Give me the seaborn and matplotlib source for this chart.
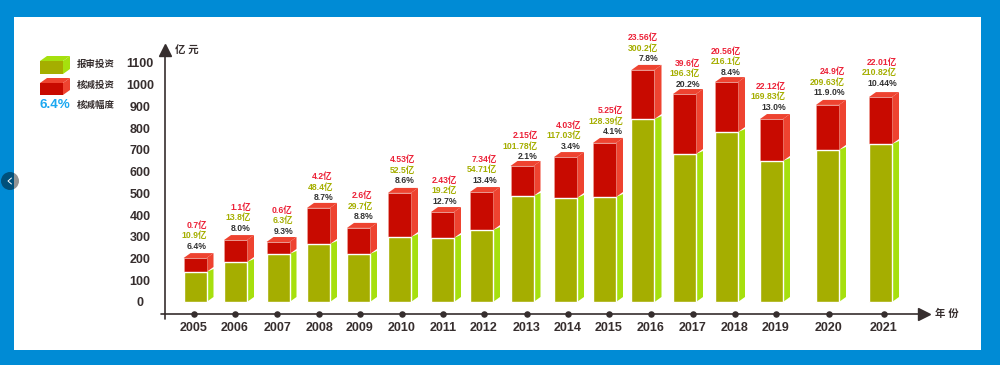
import numpy as np
import pandas as pd
import matplotlib
matplotlib.use("Agg")
import matplotlib.pyplot as plt
import seaborn as sns
from matplotlib.patches import Polygon, Rectangle, Circle

years = [2005, 2006, 2007, 2008, 2009, 2010, 2011, 2012, 2013, 2014, 2015, 2016, 2017, 2018, 2019, 2020, 2021]
# bar heights (they do not follow the printed labels)
reported = [138, 184, 221, 267, 221, 299, 295, 331, 488, 479, 483, 842, 681, 782, 649, 700, 727]
cut = [64, 101, 55, 166, 120, 203, 119, 175, 138, 188, 249, 226, 276, 230, 193, 207, 216]
cut_labels = ["0.7亿", "1.1亿", "0.6亿", "4.2亿", "2.6亿", "4.53亿", "2.43亿", "7.34亿", "2.15亿", "4.03亿", "5.25亿",
              "23.56亿", "39.6亿", "20.56亿", "22.12亿", "24.9亿", "22.01亿"]
reported_labels = ["10.9亿", "13.8亿", "6.3亿", "48.4亿", "29.7亿", "52.5亿", "19.2亿", "54.71亿", "101.78亿", "117.03亿",
                   "128.39亿", "300.2亿", "196.3亿", "216.1亿", "169.83亿", "209.63亿", "210.82亿"]
pct_labels = ["6.4%", "8.0%", "9.3%", "8.7%", "8.8%", "8.6%", "12.7%", "13.4%", "2.1%", "3.4%", "4.1%",
              "7.8%", "20.2%", "8.4%", "13.0%", "11.9.0%", "10.44%"]
y_ticks = [0, 100, 200, 300, 400, 500, 600, 700, 800, 900, 1000, 1100]

# layout: the x axis is in page pixels because the years are not evenly spaced
tick_x = [194, 235, 277, 319, 360, 402, 443, 484, 527, 568, 609, 651, 693, 735, 776, 829, 884]
bar_x = [195, 235.5, 278, 318.5, 358.5, 399.5, 442.5, 481.5, 522, 565.5, 604.5, 643, 684.5, 726.5, 771.5, 827.5, 880.5]
label_right = [207, 251, 293, 333, 373, 415, 457, 497, 538, 581, 623, 658, 700, 741, 786, 845, 897]
label_gap = [12, 12, 11, 10, 11, 12, 11, 12, 9, 11, 11, 11, 10, 10, 12, 12, 14]

W, H = 1000, 365
PX = 0.72  # points per pixel at dpi 100
px_per_unit = 0.2173
zero_px = 302
bar_w = 23
depth_x = 7
depth_px = 5

GREEN, GREEN_L = "#A5AE00", "#A6E00E"
RED, RED_L = "#C80A00", "#EE4330"
INK = "#362E2E"
BLUE = "#008BD5"

sns.set_theme(style="white")
plt.rcParams["font.family"] = ["Liberation Sans", "Noto Sans CJK SC"]

fig = plt.figure(figsize=(W / 100, H / 100), dpi=100, facecolor=BLUE)

# page layer in pixel coordinates: white panel, legend, axis ends
bg = fig.add_axes([0, 0, 1, 1], zorder=0)
bg.set_xlim(0, W)
bg.set_ylim(H, 0)
bg.axis("off")
bg.add_patch(Rectangle((14, 17), 967, 333, fc="white", ec="none"))
bg.add_patch(Circle((10, 181), 9, fc="black", alpha=0.42, ec="none"))
bg.plot([11.5, 8, 11.5], [178, 181, 184], color="white", lw=0.7)


def box_px(x0, x1, y0, y1, front, light):
    d = depth_px
    bg.add_patch(Polygon([(x1, y0), (x1 + depth_x, y0 - d), (x1 + depth_x, y1 - d), (x1, y1)], fc=light, ec="none"))
    bg.add_patch(Polygon([(x0, y0), (x1, y0), (x1 + depth_x, y0 - d), (x0 + depth_x, y0 - d)], fc=light, ec="none"))
    bg.add_patch(Rectangle((x0, y0), x1 - x0, y1 - y0, fc=front, ec="none"))


box_px(40, 63, 61, 74, GREEN, GREEN_L)
box_px(40, 63, 83, 95, RED, RED_L)
for text, y in zip(["报审投资", "核减投资", "核减幅度"], [64, 85, 105]):
    bg.text(77, y, text, fontsize=6.8, fontweight="bold", color=INK, va="center", ha="left")
bg.text(40, 105, "6.4%", fontsize=9.6, fontweight="bold", color="#1AA7F0", va="center", ha="left")
bg.text(175, 51, "亿 元", fontsize=7.5, fontweight="bold", color=INK, va="center", ha="left")
bg.text(935, 314, "年 份", fontsize=7.5, fontweight="bold", color=INK, va="center", ha="left")
# axes run a little past their crossing point
bg.plot([161, 165], [314, 314], color=INK, lw=1.2)
bg.plot([165, 165], [314, 319], color=INK, lw=1.2)

# chart layer
left, right, bottom, top = 165, 923.5, 314, 49.5
ax = fig.add_axes([left / W, 1 - bottom / H, (right - left) / W, (bottom - top) / H], zorder=1)
ax.patch.set_alpha(0)

df = pd.DataFrame({"year": years, "x": bar_x, "reported": reported, "cut": cut})
df["total"] = df["reported"] + df["cut"]

width = bar_w / np.diff(np.unique(bar_x)).min()
sns.barplot(data=df, x="x", y="total", native_scale=True, width=width, color=RED, saturation=1,
            errorbar=None, ax=ax, zorder=3, edgecolor="#F2A79C", linewidth=0.4)
sns.barplot(data=df, x="x", y="reported", native_scale=True, width=width, color=GREEN, saturation=1,
            errorbar=None, ax=ax, zorder=4)

# faces that give the bars depth, taken from the bars seaborn drew
dy = depth_px / px_per_unit
for i, row in df.iterrows():
    x1 = row["x"] + bar_w / 2
    g, t = row["reported"], row["total"]
    x0 = x1 - bar_w
    ax.add_patch(Polygon([(x1, 0), (x1 + depth_x, dy), (x1 + depth_x, g + dy * 0.6), (x1, g)], fc=GREEN_L, ec="none", zorder=2))
    ax.add_patch(Polygon([(x1, g), (x1 + depth_x, g + dy), (x1 + depth_x, t + dy), (x1, t)], fc=RED_L, ec="none", zorder=2.5))
    ax.add_patch(Polygon([(x0, t), (x1, t), (x1 + depth_x, t + dy), (x0 + depth_x, t + dy)], fc=RED_L, ec="none", zorder=2.5))
    rows = [(pct_labels[i], "#333333"), (reported_labels[i], "#A5AE00"), (cut_labels[i], "#EC2238")]
    for k, (text, colour) in enumerate(rows):
        ax.annotate(text, (label_right[i], t), xytext=(0, (label_gap[i] + k * 10.5) * PX), textcoords="offset points",
                    ha="right", va="center", fontsize=6.2, fontweight="bold", color=colour, annotation_clip=False, zorder=5)

ax.set_xlim(left, right)
ax.set_ylim((zero_px - bottom) / px_per_unit, (zero_px - top) / px_per_unit)

# year dots on the x axis
axis_y = ax.get_ylim()[0]
sns.scatterplot(x=tick_x, y=[axis_y] * len(tick_x), color=INK, s=22, linewidth=0, clip_on=False, ax=ax, zorder=6)

ax.set_xticks(tick_x)
ax.set_xticklabels([str(y) for y in years])
ax.set_yticks(y_ticks)
ax.set_yticklabels([str(v) for v in y_ticks])
ax.set_xlabel("")
ax.set_ylabel("")
ax.tick_params(axis="x", length=0, pad=5.5, labelsize=9, labelcolor=INK)
ax.tick_params(axis="y", length=0, pad=18, labelsize=9, labelcolor=INK)
for lbl in ax.get_xticklabels():
    lbl.set_fontweight("bold")
for lbl in ax.get_yticklabels():
    lbl.set_fontweight("bold")
    lbl.set_horizontalalignment("center")

sns.despine(ax=ax)
for side in ["left", "bottom"]:
    ax.spines[side].set_color(INK)
    ax.spines[side].set_linewidth(1.2)
ax.plot(1, 0, ">", color=INK, ms=8, transform=ax.transAxes, clip_on=False)
ax.plot(0, 1, "^", color=INK, ms=8, transform=ax.transAxes, clip_on=False)

fig.savefig("out.png", dpi=100, facecolor=BLUE)
